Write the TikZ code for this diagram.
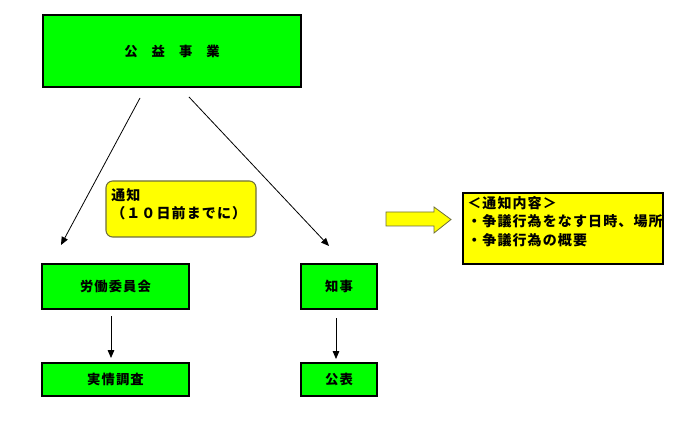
\documentclass[tikz,border=0pt]{standalone}
\usepackage{fontspec}
\newfontfamily\jp{Noto Sans CJK JP}[LetterSpace=8]
\usetikzlibrary{arrows.meta}
\definecolor{boxgreen}{RGB}{0,255,0}
\definecolor{noteyellow}{RGB}{255,255,0}
\definecolor{noteedge}{RGB}{110,110,60}
\tikzset{
  gbox/.style={draw=black, line width=1.5pt, fill=boxgreen, inner sep=0pt,
    font=\jp\bfseries\fontsize{10}{12}\selectfont},
  conn/.style={draw=black, line width=0.6pt, -{Triangle[length=6pt,width=5pt]}},
  txt/.style={inner sep=0pt, font=\jp\bfseries\fontsize{10.5}{14}\selectfont, align=left},
}
\begin{document}
\begin{tikzpicture}[x=0.75pt,y=-0.75pt]
\useasboundingbox (0,0) rectangle (695,427);
% boxes
\node[gbox, minimum width=193.5pt, minimum height=54pt] (top) at (172,51)
  {公\hspace{1.05em}益\hspace{1.05em}事\hspace{1.05em}業};
\node[gbox, minimum width=110.25pt, minimum height=33.75pt] (rodo) at (115.5,286.5) {労働委員会};
\node[gbox, minimum width=57pt, minimum height=33.75pt] (chiji) at (339,286.5) {知事};
\node[gbox, minimum width=110.25pt, minimum height=24.75pt] (jitsu) at (115.5,379.5) {実情調査};
\node[gbox, minimum width=57pt, minimum height=24.75pt] (koho) at (339,379.5) {公表};
% yellow note
\node[draw=noteedge, line width=0.8pt, fill=noteyellow, rounded corners=5pt,
  minimum width=112.5pt, minimum height=42pt] (note) at (181,209) {};
\node[txt, anchor=north west] (notetext) at (111,188)
  {通知\\（１０日前までに）};
% block arrow
\path[draw=noteedge, line width=0.6pt, fill=noteyellow]
  (386,212) -- (434,212) -- (434,207) -- (451,219.5) -- (434,233) -- (434,226) -- (386,226) -- cycle;
% info box
\node[draw=black, line width=1.4pt, fill=noteyellow,
  minimum width=150pt, minimum height=53.25pt] (info) at (563,228.5) {};
\node[txt, anchor=north west] (infotext) at (467,196)
  {＜通知内容＞\\・争議行為をなす日時、場所\\・争議行為の概要};
% connectors
\coordinate (s1) at (140,98);
\coordinate (e1) at (61,245);
\coordinate (s2) at (189,97);
\coordinate (e2) at (329,246);
\draw[conn] (s1) -- (e1);
\draw[conn] (s2) -- (e2);
\coordinate (s3) at (111,316);
\coordinate (e3) at (111,358);
\coordinate (s4) at (336,318);
\coordinate (e4) at (336,359);
\draw[conn] (s3) -- (e3);
\draw[conn] (s4) -- (e4);
\end{tikzpicture}
\end{document}
